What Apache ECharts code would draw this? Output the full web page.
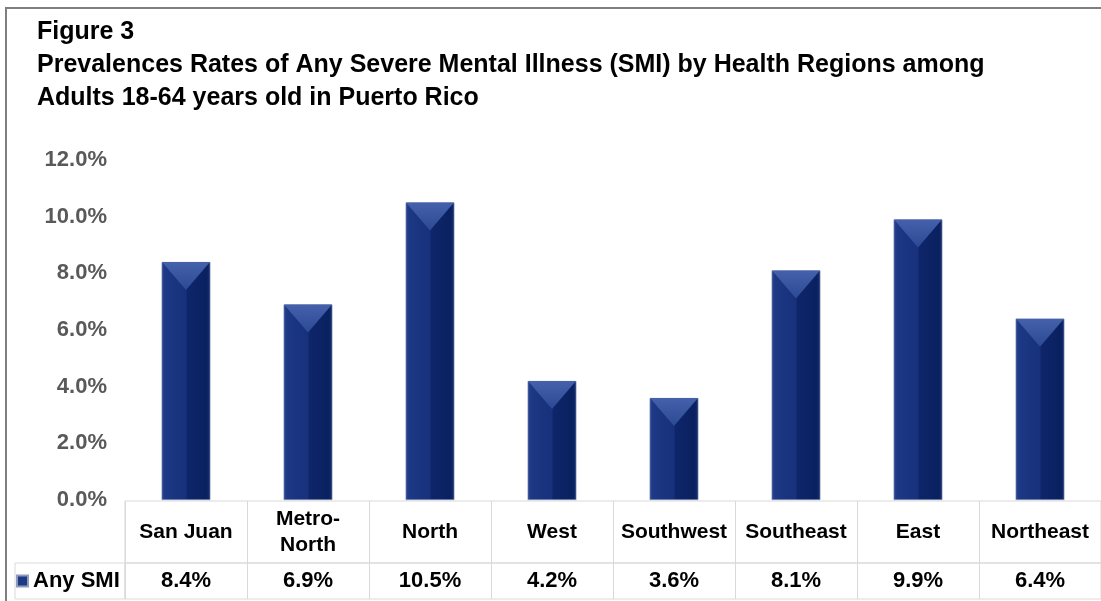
<!DOCTYPE html>
<html>
<head>
<meta charset="utf-8">
<script src="https://cdn.jsdelivr.net/npm/echarts@6/dist/echarts.min.js"></script>
<style>
html,body{margin:0;padding:0;background:#fff;}
#chart{width:1101px;height:601px;}
</style>
</head>
<body>
<div id="chart"></div>
<script>
const titleLines = [
  'Figure 3',
  'Prevalences Rates of Any Severe Mental Illness (SMI) by Health Regions among',
  'Adults 18-64 years old in Puerto Rico'
];
const categories = ['San Juan', 'Metro-\nNorth', 'North', 'West', 'Southwest', 'Southeast', 'East', 'Northeast'];
const seriesName = 'Any SMI';
const values = [8.4, 6.9, 10.5, 4.2, 3.6, 8.1, 9.9, 6.4];
const yMin = 0, yMax = 12, yStep = 2;

const FONT = '"Liberation Sans", Arial, sans-serif';
const fmt = v => v.toFixed(1) + '%';
const lineColor = '#d9d9d9';

const chart = echarts.init(document.getElementById('chart'), null, {renderer: 'canvas'});
const option = {
  animation: false,
  backgroundColor: '#fff',
  title: {
    text: titleLines.join('\n'),
    left: 37, top: 16, padding: 0,
    textStyle: {fontFamily: FONT, fontSize: 25, fontWeight: 'bold', color: '#000', lineHeight: 33}
  },
  legend: {
    data: [{name: seriesName, itemStyle: {color: '#1f3a85'}}],
    left: 16, top: 570, padding: 0,
    icon: 'rect', itemWidth: 11, itemHeight: 11,
    textStyle: {fontFamily: FONT, fontSize: 22, fontWeight: 'bold', color: '#000'}
  },
  graphic: [{
    type: 'rect', shape: {x: 6, y: 8, width: 1200, height: 700},
    style: {fill: 'none', stroke: '#7f7f7f', lineWidth: 2}, silent: true, z: 0
  }],
  grid: [
    {left: 125, width: 977, top: 160, height: 340},
    {left: 125, width: 977, top: 501, height: 62, show: true, borderColor: lineColor, borderWidth: 1, backgroundColor: 'transparent'},
    {left: 125, width: 977, top: 563, height: 36, show: true, borderColor: lineColor, borderWidth: 1, backgroundColor: 'transparent'},
    {left: 15, width: 110, top: 563, height: 36, show: true, borderColor: lineColor, borderWidth: 1, backgroundColor: 'transparent'}
  ],
  xAxis: [
    {gridIndex: 0, type: 'category', data: categories,
     axisLine: {show: false}, axisTick: {show: false}, axisLabel: {show: false}},
    {gridIndex: 1, type: 'category', data: categories, position: 'top',
     axisLine: {show: false}, axisTick: {show: false, interval: 0},
     splitLine: {show: true, interval: 0, lineStyle: {color: lineColor, width: 1}},
     axisLabel: {interval: 0, inside: true, margin: 31, verticalAlign: 'middle',
       fontFamily: FONT, fontSize: 21, fontWeight: 'bold', color: '#000', lineHeight: 26}},
    {gridIndex: 2, type: 'category', data: categories, position: 'top',
     axisLine: {show: false}, axisTick: {show: false, interval: 0},
     splitLine: {show: true, interval: 0, lineStyle: {color: lineColor, width: 1}},
     axisLabel: {interval: 0, inside: true, margin: 18, verticalAlign: 'middle',
       formatter: (v, i) => fmt(values[i]),
       fontFamily: FONT, fontSize: 22, fontWeight: 'bold', color: '#000'}},
    {gridIndex: 3, type: 'category', data: [''], show: false}
  ],
  yAxis: [
    {gridIndex: 0, type: 'value', min: yMin, max: yMax, interval: yStep,
     axisLine: {show: false}, axisTick: {show: false}, splitLine: {show: false},
     axisLabel: {margin: 18, formatter: v => fmt(v),
       fontFamily: FONT, fontSize: 22, fontWeight: 'bold', color: '#595959'}},
    {gridIndex: 1, type: 'value', show: false},
    {gridIndex: 2, type: 'value', show: false},
    {gridIndex: 3, type: 'value', show: false}
  ],
  series: [
    {
      name: seriesName, type: 'bar', xAxisIndex: 0, yAxisIndex: 0,
      data: values, barWidth: '40%', z: 2,
      itemStyle: {
        color: new echarts.graphic.LinearGradient(0, 0, 1, 0, [
          {offset: 0, color: '#2b4794'},
          {offset: 0.07, color: '#1d3884'},
          {offset: 0.5, color: '#17317c'},
          {offset: 0.52, color: '#0e266a'},
          {offset: 0.93, color: '#0a2160'},
          {offset: 1, color: '#1a3270'}
        ]),
        borderColor: '#8e9bbb', borderWidth: 0.6
      }
    },
    {
      name: 'cap', type: 'pictorialBar', xAxisIndex: 0, yAxisIndex: 0,
      data: values, symbol: 'path://M0,0 L2,0 L1,1 Z',
      symbolSize: [48, 28], symbolPosition: 'end', z: 3, silent: true,
      itemStyle: {
        color: new echarts.graphic.LinearGradient(0, 0, 0, 1, [
          {offset: 0, color: '#4561ab'},
          {offset: 1, color: '#2c4993'}
        ])
      }
    }
  ]
};
chart.setOption(option);
</script>
</body>
</html>
